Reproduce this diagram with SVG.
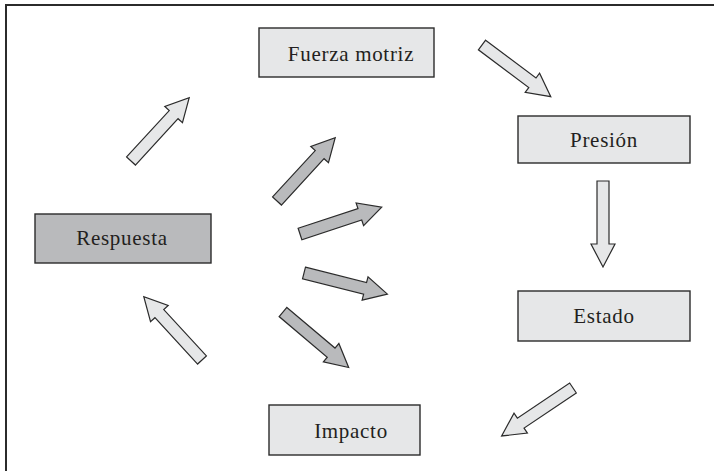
<svg xmlns="http://www.w3.org/2000/svg" xmlns:xlink="http://www.w3.org/1999/xlink" width="714" height="471" viewBox="0 0 714 471">
<style>
.box{stroke:#2b2b2b;stroke-width:1.4}
.light{fill:#e6e7e8}
.dark{fill:#b9babc}
.lbl{font-family:"Liberation Serif","Times New Roman",serif;font-size:21px;letter-spacing:0.7px;fill:#231f20;text-anchor:middle}
.arr{stroke:#2b2b2b;stroke-width:1.2;stroke-linejoin:miter}
</style>
<defs>
<path id="ba" d="M0,-6 H63 V-12 L86,0 L63,12 V6 H0 Z"/>
</defs>
<rect width="714" height="471" fill="#ffffff"/>
<path d="M6,471 V5 H714" fill="none" stroke="#2b2b2b" stroke-width="2"/>
<g id="n-fuerza"><rect class="box light" x="259" y="28" width="175" height="49"/><text class="lbl" x="351" y="61">Fuerza motriz</text></g>
<g id="n-presion"><rect class="box light" x="518" y="116" width="172" height="47"/><text class="lbl" x="604" y="147">Presión</text></g>
<g id="n-estado"><rect class="box light" x="518" y="291" width="172" height="50"/><text class="lbl" x="604" y="323">Estado</text></g>
<g id="n-impacto"><rect class="box light" x="269" y="405" width="151" height="50"/><text class="lbl" x="351" y="438">Impacto</text></g>
<g id="n-respuesta"><rect class="box dark" x="35" y="214" width="176" height="49"/><text class="lbl" x="122" y="245">Respuesta</text></g>
<g id="connectors">
<use xlink:href="#ba" class="arr light" transform="translate(482,45) rotate(36.9)"/>
<use xlink:href="#ba" class="arr light" transform="translate(603,181) rotate(90)"/>
<use xlink:href="#ba" class="arr light" transform="translate(573,388) rotate(146.1)"/>
<use xlink:href="#ba" class="arr light" transform="translate(202,360) rotate(-132.6)"/>
<use xlink:href="#ba" class="arr light" transform="translate(131,161) rotate(-47.4)"/>
<use xlink:href="#ba" class="arr dark" transform="translate(277,201) rotate(-47.4)"/>
<use xlink:href="#ba" class="arr dark" transform="translate(300,234) rotate(-18.2)"/>
<use xlink:href="#ba" class="arr dark" transform="translate(304,273) rotate(14.2)"/>
<use xlink:href="#ba" class="arr dark" transform="translate(283,312) rotate(40.2)"/>
</g>
</svg>
